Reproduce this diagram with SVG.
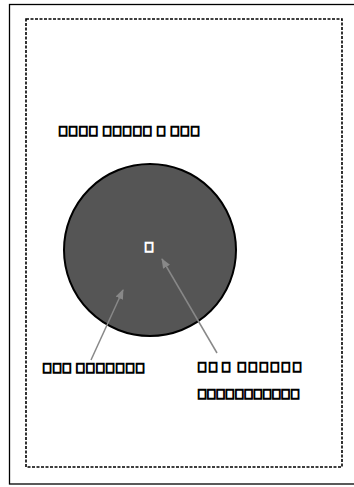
<svg xmlns="http://www.w3.org/2000/svg" width="354" height="487" viewBox="0 0 354 487">
<style>
.lbl{font-family:"Liberation Sans",sans-serif;font-size:13.5px;font-weight:bold;fill:#000;stroke:#000;stroke-width:1.3}
.conn{stroke:#888;stroke-width:1.5;fill:none;marker-end:url(#ah)}
</style>
<defs>
<marker id="ah" markerWidth="10" markerHeight="10" refX="9" refY="5" orient="auto" markerUnits="userSpaceOnUse"><path d="M0,1 L10,5 L0,9 Z" fill="#888"/></marker>
</defs>
<rect x="0" y="0" width="354" height="487" fill="#fff"/>
<rect id="frame" x="9.5" y="4.5" width="350" height="479.5" fill="none" stroke="#000" stroke-width="1.3"/>
<rect id="inner" x="26" y="19" width="316" height="448" fill="none" stroke="#000" stroke-width="1.6" stroke-dasharray="3,1.5"/>
<g id="circle"><circle cx="150" cy="250" r="86" fill="#555" stroke="#000" stroke-width="2"/></g>
<g id="connectors">
<line class="conn" x1="91" y1="360" x2="123" y2="290"/>
<line class="conn" x1="217" y1="353" x2="162" y2="259"/>
</g>
<g id="title"><text class="lbl" x="58" y="136" textLength="142" lengthAdjust="spacing">&#xE000;&#xE000;&#xE000;&#xE000; &#xE000;&#xE000;&#xE000;&#xE000;&#xE000; &#xE000; &#xE000;&#xE000;&#xE000;</text></g>
<g id="center"><text class="lbl" x="144" y="252" style="fill:#fff;stroke:#fff">&#xE000;</text></g>
<g id="label-left"><text class="lbl" x="42" y="373" textLength="103" lengthAdjust="spacing">&#xE000;&#xE000;&#xE000; &#xE000;&#xE000;&#xE000;&#xE000;&#xE000;&#xE000;&#xE000;</text></g>
<g id="label-right"><text class="lbl" x="197" y="372" textLength="105" lengthAdjust="spacing">&#xE000;&#xE000;&#x200A;&#xE000; &#xE000;&#xE000;&#xE000;&#xE000;&#xE000;&#xE000;</text>
<text class="lbl" x="197" y="399" textLength="103" lengthAdjust="spacing">&#xE000;&#xE000;&#xE000;&#xE000;&#xE000;&#xE000;&#xE000;&#xE000;&#xE000;&#xE000;&#xE000;</text></g>
</svg>
